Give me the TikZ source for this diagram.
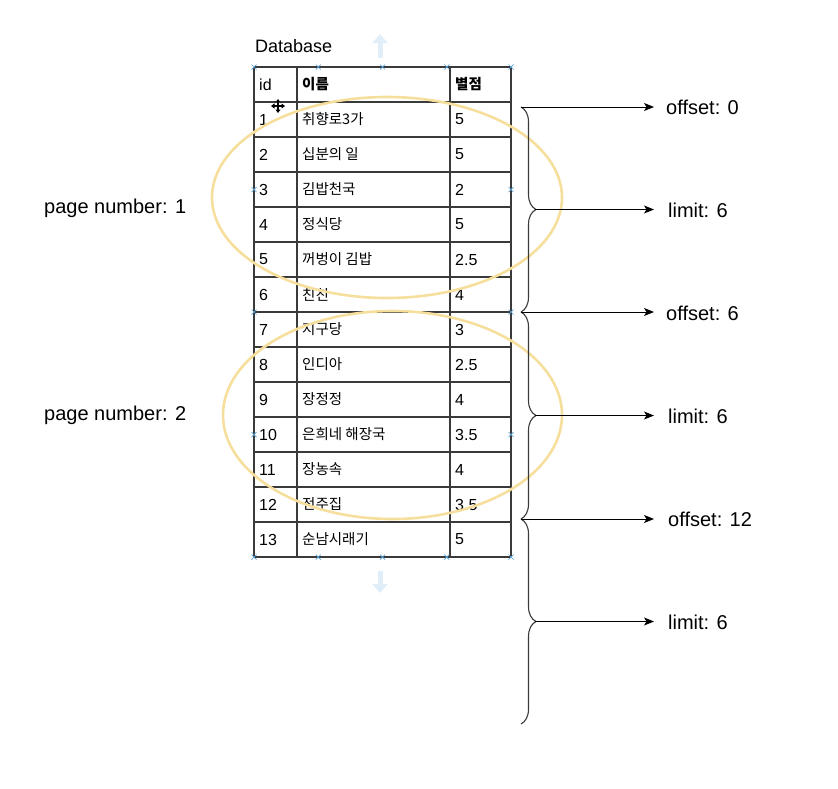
\documentclass[tikz,border=0pt]{standalone}
\usepackage{fontspec}
\setmainfont{Liberation Sans}
\newfontfamily\krfont{Noto Sans CJK KR}
\usetikzlibrary{arrows.meta,positioning,calc,decorations.pathreplacing}
\definecolor{gridline}{HTML}{3A3A3A}
\definecolor{ringcolor}{HTML}{F6DE9C}
\definecolor{handle}{HTML}{5AA2D6}
\definecolor{hint}{HTML}{E0EEFA}
\tikzset{
  cell/.style={anchor=west,inner sep=0pt,font=\fontsize{16}{18}\selectfont},
  krcell/.style={anchor=west,inner sep=0pt,font=\krfont\fontsize{14.5}{17}\selectfont},
  note/.style={anchor=west,inner sep=0pt,font=\fontsize{20}{24}\selectfont},
  grid line/.style={draw=gridline,line width=1.5pt},
  flow/.style={-{Stealth[length=10pt,width=8pt,inset=2.5pt]},line width=1pt},
  bracket/.style={decorate,decoration={brace,amplitude=15pt},line width=1.1pt,draw=gridline},
  page ring/.style={draw=ringcolor,line width=2.6pt},
  handlemark/.style={draw=handle,line width=0.7pt},
  hintarrow/.style={draw=hint,line width=5pt,-{Triangle[length=9pt,width=15pt]}}
}

\begin{document}
\begin{tikzpicture}[x=1pt,y=-1pt]
  \useasboundingbox (0,0) rectangle (838,788);
  % table title and move hints
  \node[anchor=west,inner sep=0pt,font=\fontsize{18}{20}\selectfont] (title) at (255,46) {Database};
  \draw[hintarrow] (380,58) -- (380,34);
  \draw[hintarrow] (380,571) -- (380,593);

  % table grid
  \foreach \k in {0,...,14}
    \draw[grid line] (254,67+35*\k) -- (511,67+35*\k);
  \foreach \c in {254,297,450,511}
    \draw[grid line] (\c,67) -- (\c,557);
  \draw[draw=gridline,line width=2.4pt] (254,557) -- (511,557);

  % header
  \node[cell] (hid) at (259,84.5) {id};
  \node[krcell,font=\krfont\bfseries\fontsize{14.5}{17}\selectfont] (hname) at (302,84.5) {이름};
  \node[krcell,font=\krfont\bfseries\fontsize{14.5}{17}\selectfont] (hscore) at (455,84.5) {별점};

  % rows
  \foreach \i/\n/\s in {1/취향로3가/5, 2/십분의 일/5, 3/김밥천국/2, 4/정식당/5,
      5/꺼벙이 김밥/2.5, 6/친친/4, 7/지구당/3, 8/인디아/2.5, 9/장정정/4,
      10/은희네 해장국/3.5, 11/장농속/4, 12/전주집/3.5, 13/순남시래기/5}{
    \node[cell] (id\i) at (259,84.5+35*\i) {\i};
    \node[krcell] (name\i) at (302,84.5+35*\i) {\n};
    \node[cell] (score\i) at (455,84.5+35*\i) {\s};
  }

  % selection handles
  \foreach \hx in {254,318.25,382.5,446.75,511}
    \foreach \hy in {67,557}
      \draw[handlemark] (\hx-2.5,\hy-2.5) -- (\hx+2.5,\hy+2.5) (\hx-2.5,\hy+2.5) -- (\hx+2.5,\hy-2.5);
  \foreach \hx in {254,511}
    \foreach \hy in {189.5,312,434.5}
      \draw[handlemark] (\hx-2.5,\hy-2.5) -- (\hx+2.5,\hy+2.5) (\hx-2.5,\hy+2.5) -- (\hx+2.5,\hy-2.5);

  % move cursor
  \draw[white,line width=3.4pt] (270,106) -- (286,106) (278,98) -- (278,114);
  \draw[line width=1.3pt,{Triangle[length=3.5pt,width=5pt]}-{Triangle[length=3.5pt,width=5pt]}] (271,106) -- (285,106);
  \draw[line width=1.3pt,{Triangle[length=3.5pt,width=5pt]}-{Triangle[length=3.5pt,width=5pt]}] (278,99) -- (278,113);

  % pages
  \draw[page ring] (387,197.5) ellipse [x radius=175pt,y radius=100.5pt];
  \draw[page ring] (392.5,415) ellipse [x radius=169.5pt,y radius=104pt];
  \node[note] (page1) at (44,208) {page number: 1};
  \node[note] (page2) at (44,415) {page number: 2};

  % braces
  \coordinate (b0) at (521,107);
  \coordinate (b1) at (521,312);
  \coordinate (b2) at (521,519);
  \coordinate (b3) at (521,724);
  \coordinate (t1) at (535,209.5);
  \coordinate (t2) at (535,415.5);
  \coordinate (t3) at (535,621.5);
  \coordinate (tipcol) at (654,0);
  \draw[bracket] (b0) -- (b1);
  \draw[bracket] (b1) -- (b2);
  \draw[bracket] (b2) -- (b3);

  % offsets and limits
  \node[note] (off0) at (666,107) {offset: 0};
  \node[note] (lim1) at (668,210) {limit: 6};
  \node[note] (off6) at (666,313) {offset: 6};
  \node[note] (lim2) at (668,416) {limit: 6};
  \node[note] (off12) at (668,519) {offset: 12};
  \node[note] (lim3) at (668,622) {limit: 6};
  \draw[flow] (b0) -- (b0 -| tipcol);
  \draw[flow] (t1) -- (t1 -| tipcol);
  \draw[flow] (b1) -- (b1 -| tipcol);
  \draw[flow] (t2) -- (t2 -| tipcol);
  \draw[flow] (b2) -- (b2 -| tipcol);
  \draw[flow] (t3) -- (t3 -| tipcol);
\end{tikzpicture}
\end{document}
